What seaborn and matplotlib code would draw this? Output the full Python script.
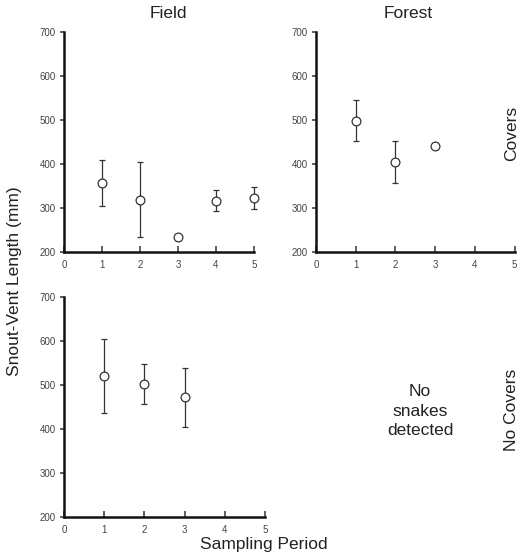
import matplotlib
matplotlib.use('Agg')
import matplotlib.pyplot as plt
import seaborn as sns
import pandas as pd
import numpy as np

# datos (media, limite inferior y superior de la barra de error)
field_cov_periodo = [1, 2, 3, 4, 5]
field_cov_media = [357, 318, 233, 317, 322]
field_cov_bajo = [305, 233, 228, 293, 298]
field_cov_alto = [409, 405, 238, 342, 347]

forest_cov_periodo = [1, 2, 3]
forest_cov_media = [498, 405, 440]
forest_cov_bajo = [452, 357, 440]
forest_cov_alto = [545, 452, 440]

field_nocov_periodo = [1, 2, 3]
field_nocov_media = [521, 503, 472]
field_nocov_bajo = [437, 458, 405]
field_nocov_alto = [605, 547, 540]

sns.set_style("ticks")
plt.rcParams['font.family'] = ['Liberation Sans', 'DejaVu Sans']

fig = plt.figure(figsize=(5.23, 5.55), dpi=100)
ax1 = fig.add_axes([0.1224, 0.546, 0.363, 0.396])
ax2 = fig.add_axes([0.604, 0.546, 0.380, 0.396])
ax3 = fig.add_axes([0.1224, 0.0685, 0.384, 0.396])


def panel(ax, periodo, media, bajo, alto):
    df = pd.DataFrame({'Periodo': periodo, 'Media': media})
    err = np.array([np.array(media) - np.array(bajo), np.array(alto) - np.array(media)])
    ax.errorbar(periodo, media, yerr=err, fmt='none', ecolor='#333333',
                elinewidth=0.9, capsize=2, capthick=0.9, clip_on=False, zorder=2)
    sns.scatterplot(data=df, x='Periodo', y='Media', ax=ax, marker='o', s=40,
                    facecolor='white', edgecolor='#333333', linewidth=0.9,
                    clip_on=False, zorder=3)
    ax.set_xlim(0, 5)
    ax.set_ylim(200, 700)
    ax.set_xticks(range(0, 6))
    ax.set_yticks(range(200, 701, 100))
    ax.set_xlabel('')
    ax.set_ylabel('')
    ax.tick_params(labelsize=7, colors='#444444', length=3, width=1.2, pad=3)
    ax.tick_params(axis='x', direction='in', length=4, pad=6)
    for s in ['left', 'bottom']:
        ax.spines[s].set_linewidth(1.8)
        ax.spines[s].set_color('#111111')
    sns.despine(ax=ax)


panel(ax1, field_cov_periodo, field_cov_media, field_cov_bajo, field_cov_alto)
panel(ax2, forest_cov_periodo, forest_cov_media, forest_cov_bajo, forest_cov_alto)
panel(ax3, field_nocov_periodo, field_nocov_media, field_nocov_bajo, field_nocov_alto)

kw = dict(ha='center', va='center', fontsize=12.5, color='#222222')
fig.text(168 / 523, 1 - 13 / 555, 'Field', **kw)
fig.text(408 / 523, 1 - 13 / 555, 'Forest', **kw)
fig.text(512 / 523, 1 - 133 / 555, 'Covers', rotation=90, **kw)
fig.text(512 / 523, 1 - 410 / 555, 'No Covers', rotation=90, **kw)
fig.text(420 / 523, 1 - 411 / 555, 'No\nsnakes\ndetected', linespacing=1.4, **kw)
fig.text(15 / 523, 1 - 281 / 555, 'Snout-Vent Length (mm)', rotation=90, **kw)
fig.text(264 / 523, 1 - 544 / 555, 'Sampling Period', **kw)

fig.savefig('out.png', dpi=100, facecolor='white')
